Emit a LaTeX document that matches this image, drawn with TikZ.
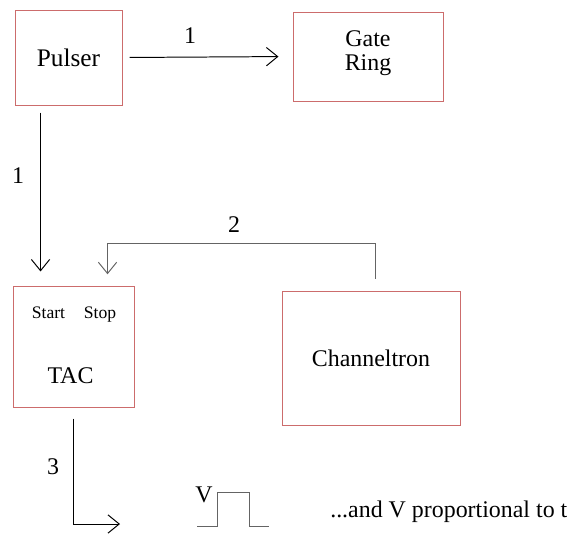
\documentclass[tikz,border=0pt]{standalone}
\usepackage{fontspec}
\setmainfont{Liberation Serif}
\newfontfamily\diagfont{Liberation Serif}
\usetikzlibrary{calc}
\usetikzlibrary{positioning}
\usetikzlibrary{arrows.meta}
\definecolor{boxred}{RGB}{204,108,108}
\definecolor{wiregray}{RGB}{100,100,100}

\begin{document}
\begin{tikzpicture}[x=0.025cm, y=-0.025cm,
    unit/.style={rectangle, draw=boxred, line width=0.65pt, inner sep=0pt, align=center, font=\diagfont\fontsize{17}{17}\selectfont},
    wire/.style={line width=0.7pt, -{Straight Barb[length=8pt, width=13pt]}},
    lbl/.style={inner sep=0pt, font=\diagfont\fontsize{17}{20}\selectfont},
    port/.style={inner sep=0pt, anchor=base, font=\diagfont\fontsize{12.5}{14}\selectfont}]
    \useasboundingbox (0,0) rectangle (572,534);

    \node [unit, minimum width=2.675cm, minimum height=2.375cm, font=\diagfont\fontsize{18}{20}\selectfont] (pulser) at (68.5,57.5) {Pulser};
    \node [unit, minimum width=3.75cm, minimum height=2.225cm] (gate) at (368,56.5) {Gate\\Ring\rule[-9pt]{0pt}{0pt}};
    \node [unit, minimum size=3.025cm] (tac) at (73.5,346.5) {};
    \node [unit, minimum width=4.45cm, minimum height=3.35cm] (channeltron) at (371,358) {Channeltron};

    \node [port] (start) at (48.5,318) {Start};
    \node [port] (stop) at (100,318) {Stop};
    \node [lbl, anchor=base] (taclabel) at (70.5,383) {TAC};

    \coordinate (startin) at ($(tac.north west)+(28,0)$);
    \coordinate (stopin) at ($(tac.north west)+(95,0)$);
    \coordinate (chout) at ($(channeltron.north west)+(94,0)$);
    \coordinate (pulseout) at (pulser.south -| startin);
    \coordinate (tacout) at (120,524);

    \draw [wire, shorten <=5pt, shorten >=10pt] (pulser.east) -- (gate.west);
    \draw [wire, shorten <=5pt, shorten >=10pt] (pulseout) -- (startin);
    \draw [wire, draw=wiregray, shorten <=8.5pt, shorten >=8pt] (chout) -- ++(0,-47) -| (stopin);
    \draw [wire, shorten <=8pt] (tac.south) |- (tacout);

    \node [lbl] (one a) at (190,36) {1};
    \node [lbl] (one b) at (18,176) {1};
    \node [lbl] (two) at (234,225) {2};
    \node [lbl] (three) at (53,467) {3};

    % output pulse
    \draw [line width=0.7pt, wiregray] (197,526) -- ++(20,0) -- ++(0,-34) -- ++(32,0) -- ++(0,34) -- ++(20,0);
    \node [lbl] (vlabel) at (204,495) {V};
    \node [lbl, anchor=base west] (result) at (330,517) {...and V proportional to t};
\end{tikzpicture}
\end{document}
